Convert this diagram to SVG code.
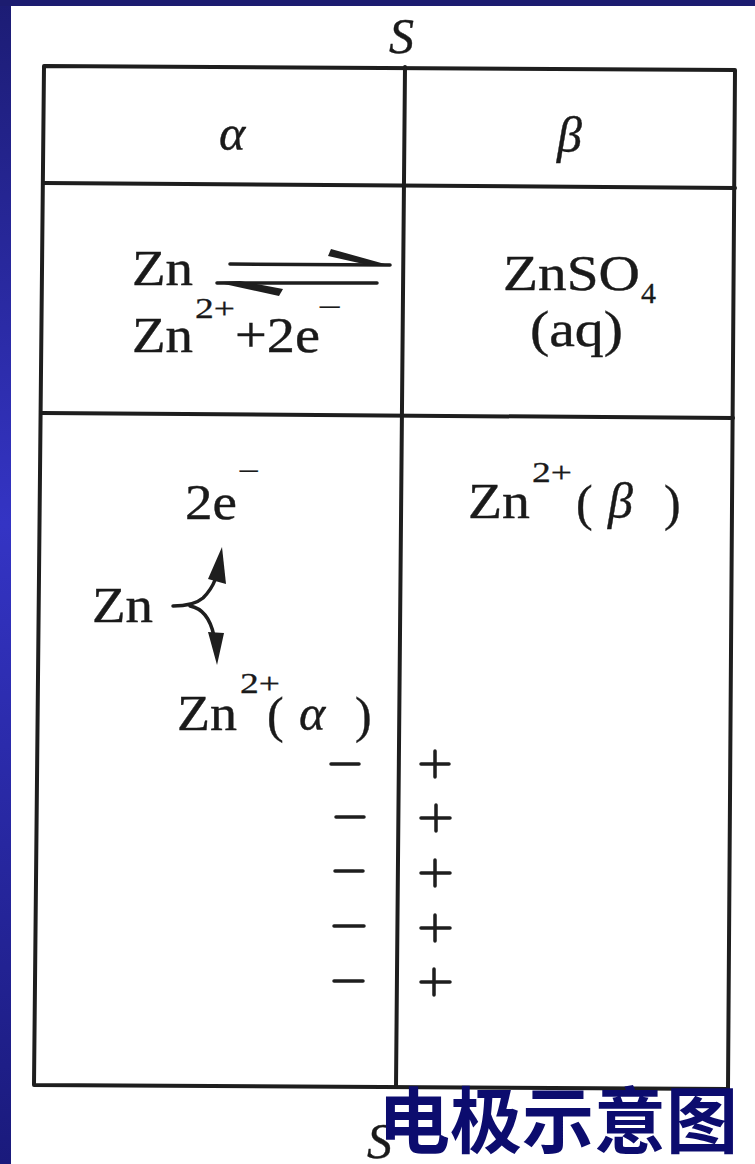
<svg xmlns="http://www.w3.org/2000/svg" width="755" height="1164" viewBox="0 0 755 1164">
<defs>
<linearGradient id="side" x1="0" y1="0" x2="0" y2="1">
<stop offset="0" stop-color="#1c1c74"/>
<stop offset="0.45" stop-color="#3434c4"/>
<stop offset="1" stop-color="#1a1a7c"/>
</linearGradient>
<style>
.ln{fill:none;stroke:#1e1e1e;stroke-width:4;stroke-linejoin:round;stroke-linecap:round}
.ar{fill:none;stroke:#1e1e1e;stroke-width:3.5;stroke-linecap:round}
.hd{fill:#1e1e1e}
.t{font-family:"Liberation Serif","Times New Roman",serif;font-size:50px;fill:#1a1a1a;stroke:#1a1a1a;stroke-width:0.4}
.sup{font-size:30px;stroke-width:0.3}
.it{font-style:italic}
.cn{font-family:"Noto Sans CJK SC","Noto Sans",sans-serif;font-weight:bold;font-size:72px;fill:#0c0c6e}
</style>
</defs>
<rect x="0" y="0" width="755" height="1164" fill="#ffffff"/>
<rect x="0" y="0" width="11" height="1164" fill="url(#side)"/>
<rect x="0" y="0" width="755" height="6" fill="#1c1c70"/>

<g id="connectors">
<polygon class="ln" points="44,66 735,70 728,1089 34,1085"/>
<line class="ln" x1="44" y1="183" x2="735" y2="188"/>
<line class="ln" x1="42" y1="413" x2="733" y2="418"/>
<line class="ln" x1="405" y1="67" x2="396" y2="1087"/>
<!-- equilibrium arrows -->
<path class="ar" d="M230,264 L390,265"/>
<polygon class="hd" points="392,266 331,249 328,256 368,265"/>
<path class="ar" d="M217,283 L377,283"/>
<polygon class="hd" points="215,282 279,296 283,289 240,281"/>
<!-- branching arrows -->
<path class="ar" d="M173,606 C186,606 196,604 203,598 C208,593 212,588 215,580"/>
<polygon class="hd" points="222,547 226,584 208,579"/>
<path class="ar" d="M190,606 C201,608 210,617 214,636"/>
<polygon class="hd" points="217,665 224,633 208,632"/>
</g>

<g id="label-S-top"><text class="t it" x="389" y="53" font-size="52">S</text></g>
<g id="header-alpha"><text class="t it" x="219" y="150">α</text></g>
<g id="header-beta"><text class="t it" x="557" y="152" font-size="54">β</text></g>

<g id="reaction">
<text class="t" x="132" y="285" textLength="61" lengthAdjust="spacingAndGlyphs">Zn</text>
<text class="t" x="132" y="352" textLength="61" lengthAdjust="spacingAndGlyphs">Zn</text>
<text class="t sup" x="195" y="318" textLength="40" lengthAdjust="spacingAndGlyphs">2+</text>
<text class="t" x="235" y="352" textLength="85" lengthAdjust="spacingAndGlyphs">+2e</text>
<text class="t sup" x="318" y="317" textLength="24" lengthAdjust="spacingAndGlyphs">−</text>
</g>

<g id="solution">
<text class="t" x="503" y="290" textLength="137" lengthAdjust="spacingAndGlyphs">ZnSO</text>
<text class="t sup" x="641" y="303">4</text>
<text class="t" x="530" y="346" textLength="93" lengthAdjust="spacingAndGlyphs">(aq)</text>
</g>

<g id="electrons">
<text class="t" x="185" y="519" textLength="52" lengthAdjust="spacingAndGlyphs">2e</text>
<text class="t sup" x="238" y="481" textLength="22" lengthAdjust="spacingAndGlyphs">−</text>
</g>
<g id="zn-metal"><text class="t" x="92" y="622" textLength="61" lengthAdjust="spacingAndGlyphs">Zn</text></g>
<g id="zn-alpha">
<text class="t" x="177" y="730" textLength="60" lengthAdjust="spacingAndGlyphs">Zn</text>
<text class="t sup" x="240" y="693" textLength="40" lengthAdjust="spacingAndGlyphs">2+</text>
<text class="t" x="267" y="732" font-size="54">(</text>
<text class="t it" x="299" y="730">α</text>
<text class="t" x="355" y="732" font-size="54">)</text>
</g>
<g id="zn-beta">
<text class="t" x="468" y="518" textLength="62" lengthAdjust="spacingAndGlyphs">Zn</text>
<text class="t sup" x="532" y="482" textLength="40" lengthAdjust="spacingAndGlyphs">2+</text>
<text class="t" x="576" y="520" font-size="54">(</text>
<text class="t it" x="608" y="518">β</text>
<text class="t" x="664" y="520" font-size="54">)</text>
</g>

<g id="charges">
<line class="ar" x1="331" y1="764" x2="359" y2="764"/>
<line class="ar" x1="336" y1="817" x2="364" y2="817"/>
<line class="ar" x1="335" y1="871" x2="363" y2="871"/>
<line class="ar" x1="334" y1="926" x2="364" y2="926"/>
<line class="ar" x1="334" y1="981" x2="363" y2="981"/>
<path class="ar" d="M421,764 H449 M435,751 V777"/>
<path class="ar" d="M421,818 H450 M436,805 V831"/>
<path class="ar" d="M421,873 H450 M435,860 V886"/>
<path class="ar" d="M421,928 H450 M435,915 V941"/>
<path class="ar" d="M421,982 H450 M434,969 V995"/>
</g>

<g id="label-S-bottom"><text class="t it" x="367" y="1158">S</text></g>
<g id="caption"><text class="cn" x="378" y="1147">电极示意图</text></g>
</svg>
